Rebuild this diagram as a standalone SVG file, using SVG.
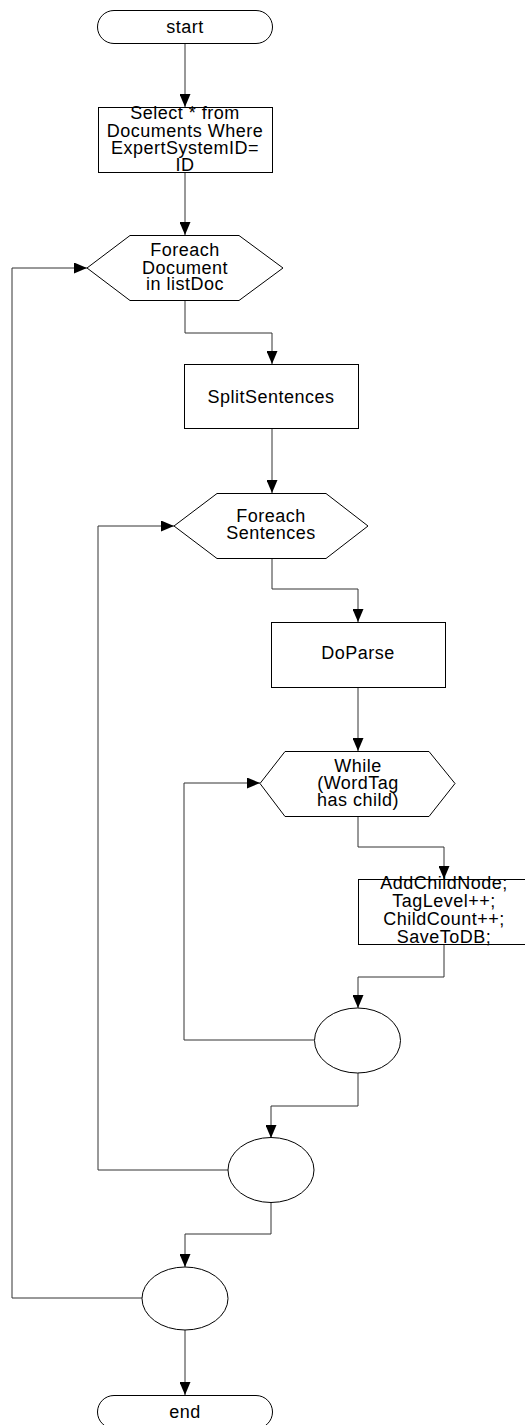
<svg xmlns="http://www.w3.org/2000/svg" width="525" height="1425" viewBox="0 0 525 1425">
  <style>
    .shape { fill: #ffffff; stroke: #000000; stroke-width: 1; }
    .edge { fill: none; stroke: #333333; stroke-width: 1; }
    .label { font-family: "Liberation Sans", Arial, sans-serif; font-size: 18px; letter-spacing: 0.5px; fill: #000000; text-anchor: middle; }
  </style>
  <defs>
    <marker id="arrow" markerUnits="userSpaceOnUse" markerWidth="13" markerHeight="11" refX="13" refY="5.5" orient="auto">
      <path d="M0,0 L13,5.5 L0,11 Z" fill="#000000"/>
    </marker>
  </defs>

  <rect width="525" height="1425" fill="#ffffff"/>

  <!-- connectors -->
  <g id="connectors">
    <path class="edge" d="M185,43 V107" marker-end="url(#arrow)"/>
    <path class="edge" d="M185,172 V235" marker-end="url(#arrow)"/>
    <path class="edge" d="M185,300 V333 H272 V364" marker-end="url(#arrow)"/>
    <path class="edge" d="M272,428 V493" marker-end="url(#arrow)"/>
    <path class="edge" d="M272,558 V589 H358 V622" marker-end="url(#arrow)"/>
    <path class="edge" d="M358,687 V751" marker-end="url(#arrow)"/>
    <path class="edge" d="M358,816 V847 H444 V879" marker-end="url(#arrow)"/>
    <path class="edge" d="M444,944 V977 H358 V1008" marker-end="url(#arrow)"/>
    <path class="edge" d="M314,1040 H184 V783 H260" marker-end="url(#arrow)"/>
    <path class="edge" d="M358,1073 V1106 H271 V1138" marker-end="url(#arrow)"/>
    <path class="edge" d="M228,1170 H98 V526 H174" marker-end="url(#arrow)"/>
    <path class="edge" d="M271,1202 V1234 H185 V1267" marker-end="url(#arrow)"/>
    <path class="edge" d="M142,1298 H12 V268 H87" marker-end="url(#arrow)"/>
    <path class="edge" d="M185,1330 V1395" marker-end="url(#arrow)"/>
  </g>

  <g id="start">
    <rect class="shape" x="97.5" y="10.5" width="175" height="33" rx="16.5" ry="16.5"/>
    <text class="label" x="185" y="33">start</text>
  </g>

  <g id="select-documents">
    <rect class="shape" x="98.5" y="107.5" width="174" height="65"/>
    <text class="label" x="185" y="119">Select * from</text>
    <text class="label" x="185" y="137">Documents Where</text>
    <text class="label" x="185" y="154">ExpertSystemID=</text>
    <text class="label" x="185" y="171">ID</text>
  </g>

  <g id="foreach-document">
    <polygon class="shape" points="87,268 130,235.5 239,235.5 283,268 239,300.5 130,300.5"/>
    <text class="label" x="185" y="256">Foreach</text>
    <text class="label" x="185" y="274">Document</text>
    <text class="label" x="185" y="290">in listDoc</text>
  </g>

  <g id="split-sentences">
    <rect class="shape" x="184.5" y="364.5" width="174" height="64"/>
    <text class="label" x="271" y="403">SplitSentences</text>
  </g>

  <g id="foreach-sentences">
    <polygon class="shape" points="174,526 217,493.5 326,493.5 368,526 326,558.5 217,558.5"/>
    <text class="label" x="271" y="522">Foreach</text>
    <text class="label" x="271" y="539">Sentences</text>
  </g>

  <g id="do-parse">
    <rect class="shape" x="271.5" y="622.5" width="174" height="65"/>
    <text class="label" x="358" y="659">DoParse</text>
  </g>

  <g id="while-wordtag">
    <polygon class="shape" points="260,783.5 285,751.5 429,751.5 455,783.5 429,816.5 285,816.5"/>
    <text class="label" x="358" y="772">While</text>
    <text class="label" x="358" y="789">(WordTag</text>
    <text class="label" x="358" y="806">has child)</text>
  </g>

  <g id="add-child-node">
    <rect class="shape" x="358.5" y="879.5" width="174" height="65"/>
    <text class="label" x="444" y="889">AddChildNode;</text>
    <text class="label" x="444" y="907">TagLevel++;</text>
    <text class="label" x="444" y="925">ChildCount++;</text>
    <text class="label" x="444" y="943">SaveToDB;</text>
  </g>

  <g id="end-while">
    <ellipse class="shape" cx="357.5" cy="1040.5" rx="43" ry="32.5"/>
  </g>

  <g id="end-foreach-sentences">
    <ellipse class="shape" cx="271" cy="1170" rx="43" ry="32.5"/>
  </g>

  <g id="end-foreach-document">
    <ellipse class="shape" cx="185" cy="1298.5" rx="43" ry="31.5"/>
  </g>

  <g id="end">
    <rect class="shape" x="97.5" y="1395.5" width="175" height="33" rx="16.5" ry="16.5"/>
    <text class="label" x="185" y="1418">end</text>
  </g>
</svg>
